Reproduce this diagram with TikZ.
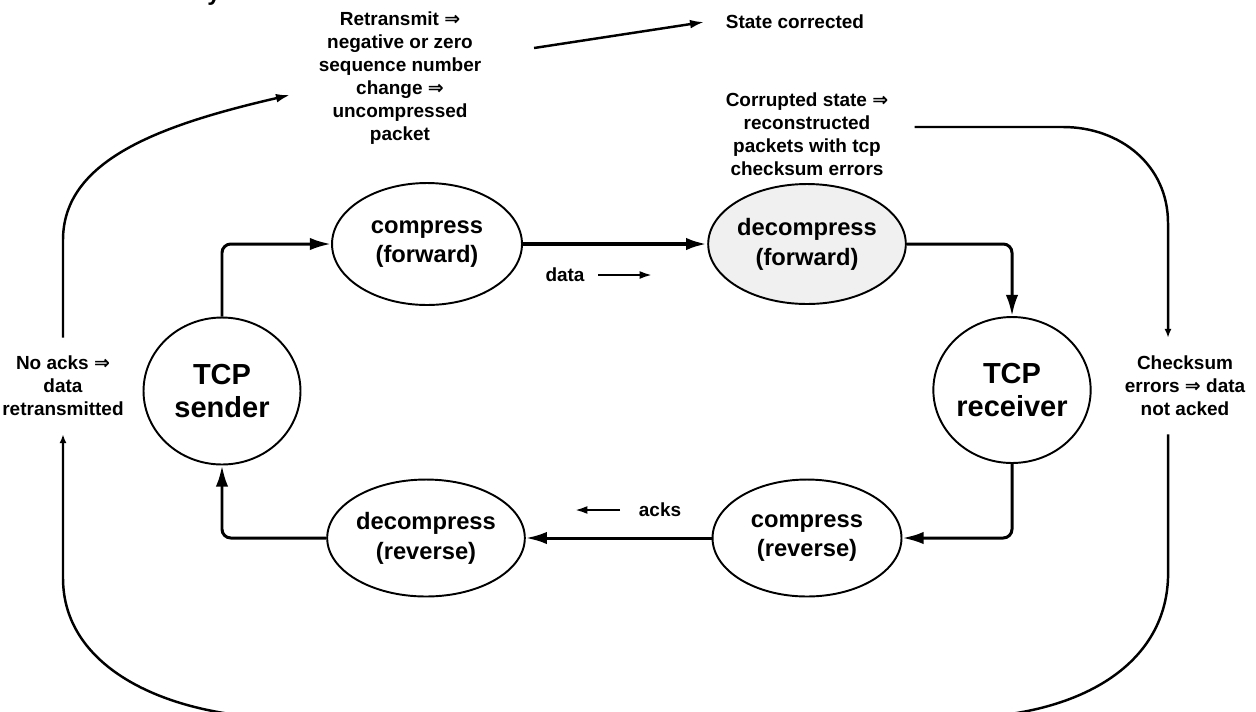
\documentclass[tikz,border=0pt]{standalone}
\usepackage{fontspec}
\setmainfont{Liberation Sans}
\newfontfamily\arrowfont{DejaVu Sans}
\usetikzlibrary{shapes.geometric,arrows.meta}
% double arrow used in the annotations
\newcommand\impl{{\arrowfont\char"21D2}}

\begin{document}
\begin{tikzpicture}[x=0.02cm, y=-0.02cm,
  stage/.style={ellipse, draw, line width=1.1pt, inner sep=0pt, align=center,
    font=\fontsize{13.5}{17}\selectfont\bfseries},
  endpoint/.style={stage, font=\fontsize{16.5}{19}\selectfont\bfseries},
  note/.style={align=center, inner sep=2pt,
    font=\fontsize{10.8}{13}\selectfont\bfseries},
  link/.style={line width=1.7pt, rounded corners=5pt,
    -{Latex[length=12pt,width=7pt]}},
  hint/.style={line width=1.2pt, -{Latex[length=7pt,width=4.5pt]}},
  cycle/.style={line width=1.4pt},
]
\useasboundingbox (0,0) rectangle (1256,711);

% fragment of the line above the figure
\node[anchor=base, inner sep=0pt, font=\fontsize{13.5}{16}\selectfont\bfseries] (frag) at (214,0) {y};

% protocol stages
\node[stage, minimum width=3.8cm, minimum height=2.44cm] (cf) at (427,244) {compress\\(forward)};
\node[stage, fill=black!6, minimum width=3.82cm, minimum height=2.4cm] (df) at (807,244) {decompress\\(forward)};
\node[endpoint, minimum width=3.14cm, minimum height=2.94cm] (snd) at (222,391) {TCP\\sender};
\node[endpoint, minimum width=3.06cm, minimum height=2.92cm] (rcv) at (1012,390) {TCP\\receiver};
\node[stage, minimum width=3.78cm, minimum height=2.34cm] (cr) at (807,538) {compress\\(reverse)};
\node[stage, minimum width=3.78cm, minimum height=2.34cm] (dr) at (426,538) {decompress\\(reverse)};

% main data / ack path
\draw[link] (snd.north) |- (cf.west);
\draw[link, line width=2.2pt] (cf.east) -- (df.west);
\draw[link] (df.east) -| (rcv.north);
\draw[link] (rcv.south) |- (cr.east);
\draw[link] (cr.west) -- (dr.east);
\draw[link] (dr.west) -| (snd.south);

% direction hints
\node[note] (data) at (565,275) {data};
\coordinate (dataend) at (652,275);
\draw[hint] ([xshift=0.2cm]data.east) -- (dataend);
\node[note] (acks) at (660,510) {acks};
\coordinate (acksend) at (575,510);
\draw[hint] ([xshift=-0.3cm]acks.west) -- (acksend);

% annotations
\node[note] (retx) at (400,78) {Retransmit \impl\\negative or zero\\sequence number\\change \impl\\uncompressed\\packet};
\node[note] (state) at (795,22) {State corrected};
\node[note] (corr) at (807,134) {Corrupted state \impl\\reconstructed\\packets with tcp\\checksum errors};
\node[note, outer ysep=0.3cm] (noack) at (63,386) {No acks \impl\\data\\retransmitted};
\node[note, outer ysep=0.3cm] (chk) at (1185,386) {Checksum\\errors \impl{} data\\not acked};
\coordinate (rl) at (1168,0);
\coordinate (rin) at (290,95);

% error recovery cycle
\draw[cycle, -{Latex[length=5pt,width=4pt]}]
  ([shift={(0.45cm,0.14cm)}]corr.east) -- (1063,127)
  .. controls (1120,127) and (1168,165) .. (1168,223) -- (chk.north -| rl);
\draw[cycle, -{Latex[length=5pt,width=4pt]}]
  (chk.south -| rl) -- (1168,578)
  .. controls (1165,665) and (1080,716) .. (960,718) -- (280,718)
  .. controls (170,716) and (63,670) .. (63,578) -- (noack.south);
\draw[cycle, -{Latex[length=8pt,width=5pt]}]
  (noack.north) -- (63,240) .. controls (63,160) and (160,125) .. (rin);
\draw[cycle, -{Latex[length=8pt,width=5pt]}]
  ([shift={(0.98cm,0.6cm)}]retx.east) -- ([xshift=-0.36cm]state.west);
\end{tikzpicture}
\end{document}
